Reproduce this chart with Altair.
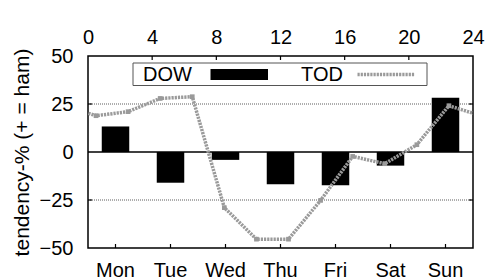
import altair as alt
import pandas as pd

# Day-of-week tendency (bars)
days = ["Mon", "Tue", "Wed", "Thu", "Fri", "Sat", "Sun"]
dow_values = [13.3, -16.0, -4.1, -16.8, -17.3, -7.1, 28.3]

# Time-of-day tendency (line), hours (wraps around past 0 and 24)
tod_hours = [-1.5, 0.5, 2.5, 4.5, 6.5, 8.5, 10.5, 12.5, 14.5, 16.5, 18.5, 20.5, 22.5, 24.5]
tod_values = [24.1, 18.9, 21.0, 27.9, 28.8, -29.0, -45.4, -45.4, -25.2, -2.3, -6.1, 3.8, 24.1, 18.9]

y_ticks = [-50, -25, 0, 25, 50]
grid_vals = [-25, 25]
hour_ticks = [0, 4, 8, 12, 16, 20, 24]
hour_inner_ticks = [4, 8, 12, 16, 20]

W, H = 385, 192
FONT = "Liberation Sans"
FS = 20
LINE_COLOR = "#9a9a9a"

dow_df = pd.DataFrame({"day": days, "val": dow_values})
tod_df = pd.DataFrame({"hour": tod_hours, "val": tod_values})
grid_df = pd.DataFrame({"val": grid_vals})
zero_df = pd.DataFrame({"val": [0]})
htick_df = pd.DataFrame({"hour": hour_inner_ticks})
one = pd.DataFrame({"a": [0]})

yscale = alt.Scale(domain=[-50, 50], nice=False, zero=False)
yaxis = alt.Axis(values=y_ticks, title="tendency-% (+ = ham)", domain=False, ticks=False,
                 grid=False, labelPadding=15, labelFontSize=FS, labelFont=FONT,
                 labelColor="black", titleFontSize=21, titleFont=FONT,
                 titleFontWeight="normal", titleColor="black", titlePadding=7)
yenc = alt.Y("val:Q", scale=yscale, axis=yaxis)

xband = alt.X(
    "day:N", sort=days,
    scale=alt.Scale(paddingInner=0.5, paddingOuter=0.25),
    axis=alt.Axis(title=None, labelAngle=0, domain=False, ticks=False,
                  labelPadding=12, labelFontSize=FS, labelFont=FONT, labelColor="black"),
)
hour_axis = alt.Axis(orient="top", title=None, values=hour_ticks, domain=False, ticks=False,
                     grid=False, labelPadding=9, labelFontSize=FS, labelFont=FONT,
                     labelColor="black", labelFlush=False)
xhour = alt.X("hour:Q", scale=alt.Scale(domain=[0, 24], nice=False, zero=False), axis=hour_axis)

grid = alt.Chart(grid_df).mark_rule(color="#333", strokeWidth=0.8, strokeDash=[1, 1]).encode(
    y=yenc
)

bars = alt.Chart(dow_df).mark_bar(color="black").encode(x=xband, y=yenc)
bottom_ticks = alt.Chart(dow_df).mark_rule(color="black", strokeWidth=1.2).encode(
    x=xband, y=alt.value(H), y2=alt.value(H - 4)
)
band_layer = alt.layer(bars, bottom_ticks)

zero = alt.Chart(zero_df).mark_rule(color="black", strokeWidth=1.5).encode(y=yenc)
ytick_l = alt.Chart(grid_df).mark_rule(color="black", strokeWidth=1.2).encode(
    y=yenc, x=alt.value(0), x2=alt.value(4)
)
ytick_r = alt.Chart(grid_df).mark_rule(color="black", strokeWidth=1.2).encode(
    y=yenc, x=alt.value(W - 4), x2=alt.value(W)
)

line = alt.Chart(tod_df).mark_line(color=LINE_COLOR, strokeWidth=3.5, strokeDash=[2.2, 1],
                                   clip=True).encode(x=xhour, y=yenc)
pts = alt.Chart(tod_df).mark_square(color=LINE_COLOR, size=22, opacity=1, clip=True).encode(
    x=xhour, y=yenc
)
top_ticks = alt.Chart(htick_df).mark_rule(color="black", strokeWidth=1.2).encode(
    x=xhour, y=alt.value(0), y2=alt.value(4)
)
hour_layer = alt.layer(top_ticks, line, pts)

# legend (drawn inside the plot, gnuplot style)
leg_box = alt.Chart(one).mark_rect(fill="white", stroke="#555", strokeWidth=1).encode(
    x=alt.value(45), x2=alt.value(339), y=alt.value(7), y2=alt.value(29.5)
)
leg_dow = alt.Chart(one).mark_text(text="DOW", font=FONT, fontSize=20, color="black",
                                   align="center", baseline="middle").encode(
    x=alt.value(79.5), y=alt.value(19)
)
leg_rect = alt.Chart(one).mark_rect(fill="black").encode(
    x=alt.value(122.5), x2=alt.value(180), y=alt.value(13), y2=alt.value(24)
)
leg_tod = alt.Chart(one).mark_text(text="TOD", font=FONT, fontSize=20, color="black",
                                   align="center", baseline="middle").encode(
    x=alt.value(234), y=alt.value(19)
)
leg_line = alt.Chart(one).mark_rule(color=LINE_COLOR, strokeWidth=3.5, strokeDash=[2.2, 1]).encode(
    x=alt.value(269.5), x2=alt.value(326.5), y=alt.value(18.5)
)

chart = alt.layer(
    grid, band_layer, zero, ytick_l, ytick_r, hour_layer,
    leg_box, leg_dow, leg_rect, leg_tod, leg_line,
).resolve_scale(x="independent").properties(
    width=W, height=H,
    autosize=alt.AutoSizeParams(type="none"),
    padding={"left": 80, "top": 48, "right": 22, "bottom": 32},
    background="white",
).configure_view(stroke="black", strokeWidth=1.5)

chart.save("out.html", embed_options={"renderer": "svg", "actions": False})
